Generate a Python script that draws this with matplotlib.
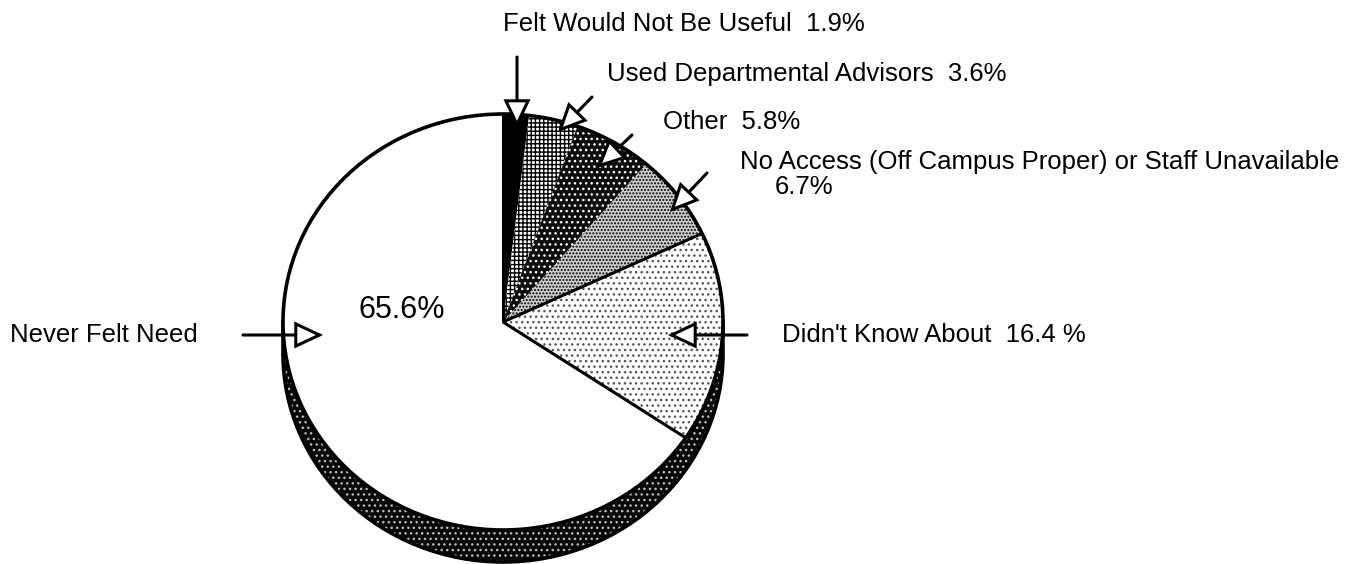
import matplotlib
matplotlib.use("Agg")
import matplotlib.pyplot as plt
from matplotlib.patches import Wedge, Rectangle, Arc, Ellipse, FancyArrowPatch
import numpy as np

plt.rcParams['font.family'] = ['Liberation Sans', 'DejaVu Sans']
plt.rcParams['hatch.linewidth'] = 1.0

# Survey responses, clockwise from 12 o'clock
labels = ['Felt Would Not Be Useful', 'Used Departmental Advisors', 'Other',
          'No Access (Off Campus Proper) or Staff Unavailable',
          "Didn't Know About", 'Never Felt Need']
values = [1.9, 3.6, 5.8, 6.7, 16.4, 65.6]
label_texts = ['Felt Would Not Be Useful  1.9%', 'Used Departmental Advisors  3.6%',
               'Other  5.8%', 'No Access (Off Campus Proper) or Staff Unavailable',
               "Didn't Know About  16.4 %", 'Never Felt Need']

# face colour, hatch, hatch colour for each slice
fills = [('black', None, 'black'),
         ('white', '++++', 'black'),
         ('#0d0d0d', '...', 'white'),
         ('#d0d0d0', '.....', 'black'),
         ('white', '...', '#555555'),
         ('white', None, 'white')]

W, H = 1359, 564
fig = plt.figure(figsize=(W / 100, H / 100), dpi=100)

# pie geometry in pixels
cx, cy, rx, ry, depth = 503, 322, 220, 208, 32
pad = 1.2
pax = fig.add_axes([(cx - rx * pad) / W, (H - cy - ry * pad) / H,
                    2 * rx * pad / W, 2 * ry * pad / H])
wedges, _ = pax.pie(values, startangle=90, counterclock=False, radius=1,
                    wedgeprops=dict(linewidth=0))
pax.set_aspect('auto')
pax.set_xlim(-pad, pad)
pax.set_ylim(-pad, pad)
pax.axis('off')

for w, (fc, hatch, hc) in zip(wedges, fills):
    w.set_facecolor(fc)
    w.set_edgecolor(hc)
    w.set_linewidth(0)
    if hatch:
        w.set_hatch(hatch)
    w.set_zorder(3)

# side of the disc
d = depth / ry
side_kw = dict(facecolor='#080808', edgecolor='#bbbbbb', hatch='...', linewidth=0, zorder=1)
pax.add_patch(Wedge((0, -d), 1, 180, 360, **side_kw))
pax.add_patch(Rectangle((-1, -d), 2, d, **side_kw))
pax.add_patch(Arc((0, -d), 2, 2, theta1=180, theta2=360, color='black', lw=2.6, zorder=2))
pax.plot([-1, -1], [0, -d], color='black', lw=2.6, zorder=2)
pax.plot([1, 1], [0, -d], color='black', lw=2.6, zorder=2)

# outline of the top face and the drawn slice borders
pax.add_patch(Ellipse((0, 0), 2, 2, fill=False, edgecolor='black', lw=2.6, zorder=5))
cum = np.cumsum([0] + values)
edge_angles = 90 - 360 * cum / cum[-1]
for k in (0, 4, 5):
    a = np.deg2rad(edge_angles[k])
    pax.plot([0, np.cos(a)], [0, np.sin(a)], color='black', lw=2.2, zorder=4,
             solid_capstyle='butt')

# overlay axes in pixel coordinates for labels and arrows
ax = fig.add_axes([0, 0, 1, 1])
ax.set_xlim(0, W)
ax.set_ylim(H, 0)
ax.patch.set_alpha(0)
ax.axis('off')

fs = 18.5
text_pos = [(503, 24), (607, 74), (663, 122), (740, 162), (782, 335), (10, 335)]
for (x, y), t in zip(text_pos, label_texts):
    ax.text(x, y, t, fontsize=fs, ha='left', va='center')
ax.text(775, 187, '6.7%', fontsize=fs, ha='left', va='center')
ax.text(358, 310, '65.6%', fontsize=22, ha='left', va='center')

arrows = [((517, 57), (517, 128)),
          ((592, 97), (558, 132)),
          ((632, 135), (597, 168)),
          ((707, 173), (670, 212)),
          ((747, 335), (668, 335)),
          ((243, 335), (323, 335))]
for tail, tip in arrows:
    ax.add_patch(FancyArrowPatch(tail, tip, arrowstyle='-|>,head_length=17,head_width=8',
                                 mutation_scale=1, shrinkA=0, shrinkB=0, lw=2.2,
                                 facecolor='white', edgecolor='black', zorder=10,
                                 joinstyle='miter'))

fig.savefig('out.png', dpi=100, facecolor='white')
